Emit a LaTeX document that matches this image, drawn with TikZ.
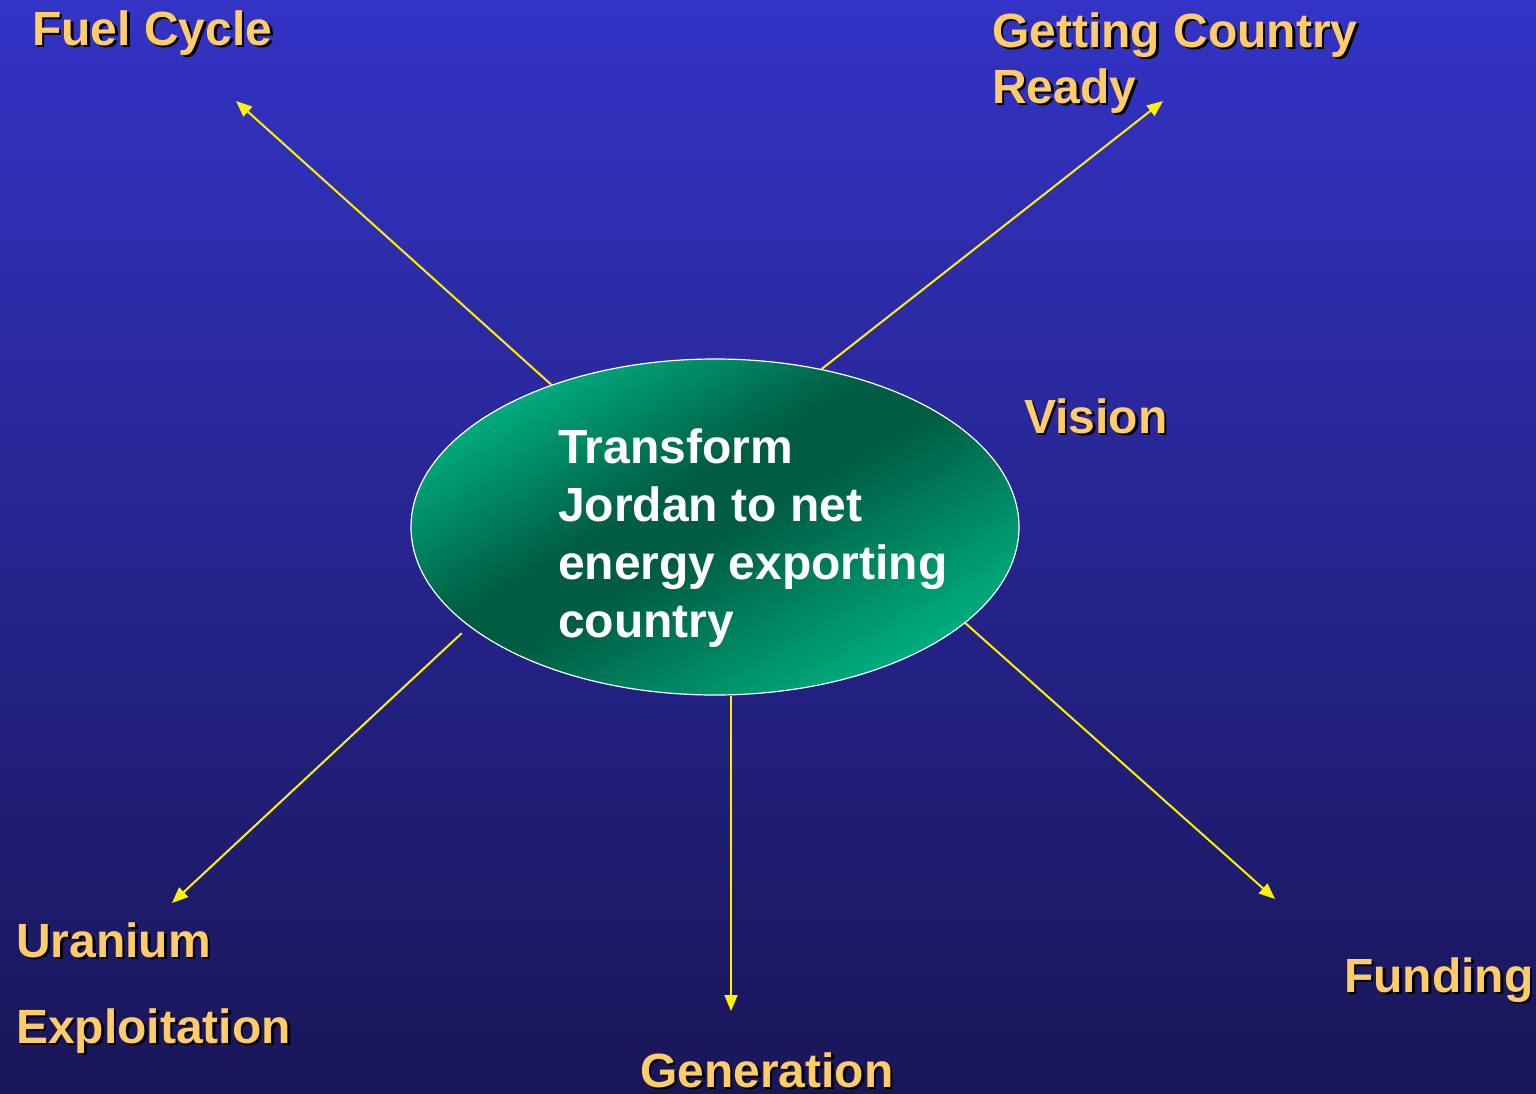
\documentclass[tikz,border=0pt]{standalone}
\usepackage{fontspec}
\setmainfont{Liberation Sans}
\usetikzlibrary{shapes.geometric,arrows.meta}

\definecolor{bgtop}{RGB}{51,51,198}
\definecolor{bgbot}{RGB}{25,22,88}
\definecolor{labelorange}{RGB}{255,204,102}
\definecolor{tealhi}{RGB}{0,186,138}
\definecolor{tealdk}{RGB}{0,92,66}

% light rim, dark diagonal band through the middle of the oval
\pgfdeclarehorizontalshading{ovalshade}{100bp}{color(0bp)=(tealhi); color(22bp)=(tealhi); color(44bp)=(tealdk); color(51bp)=(tealdk); color(78bp)=(tealhi); color(100bp)=(tealhi)}

% text with a black drop shadow behind it
\newcommand{\shadowed}[1]{\leavevmode\rlap{\hspace*{2.5pt}\raisebox{-2.5pt}[0pt][0pt]{\color{black}#1}}#1}

\begin{document}
\begin{tikzpicture}[x=1pt,y=-1pt,
  lbl/.style={font=\bfseries\fontsize{48}{56}\selectfont, text=labelorange, inner sep=0pt, anchor=base west, align=left},
  link/.style={draw=yellow, line width=2pt, -{Triangle[length=16pt,width=13pt]}},
]
\fill[top color=bgtop,bottom color=bgbot] (0,0) rectangle (1536,1093);
\useasboundingbox (0,0) rectangle (1536,1093);

% central goal
\node[ellipse, minimum width=608pt, minimum height=336pt, inner sep=0pt,
      draw=white, line width=1.2pt, shading=ovalshade, shading angle=-60] (core) at (715,527) {};
\node[font=\bfseries\fontsize{48}{58}\selectfont, text=white, align=left, inner sep=0pt, anchor=north west]
  (goal) at (558,429) {Transform\\Jordan to net\\energy exporting\\country};

% surrounding topics (base anchor sits on the last line)
\node[lbl] (fuel) at (32,45) {\shadowed{Fuel Cycle}};
\node[lbl] (ready) at (992,103) {\shadowed{Getting Country}\\\shadowed{Ready}};
\node[lbl] (vision) at (1024,433) {\shadowed{Vision}};
\node[lbl] (uranium) at (16,957) {\shadowed{Uranium}};
\node[lbl] (exploit) at (16,1043) {\shadowed{Exploitation}};
\node[lbl] (gen) at (640,1087) {\shadowed{Generation}};
\node[lbl] (fund) at (1344,992) {\shadowed{Funding}};

% arrow tips
\coordinate (tipfuel) at (236,101);
\coordinate (tipready) at (1163,101);
\coordinate (tipuran) at (172,903);
\coordinate (tipgen) at (731,1011);
\coordinate (tipfund) at (1275,899);

\draw[link] (core.139.8) -- (tipfuel);
\draw[link] (core.56.6) -- (tipready);
\draw[link, shorten <=10pt] (core.202) -- (tipuran);
\draw[link] (core.south -| tipgen) -- (tipgen);
\draw[link] (core.-21) -- (tipfund);
\end{tikzpicture}
\end{document}
